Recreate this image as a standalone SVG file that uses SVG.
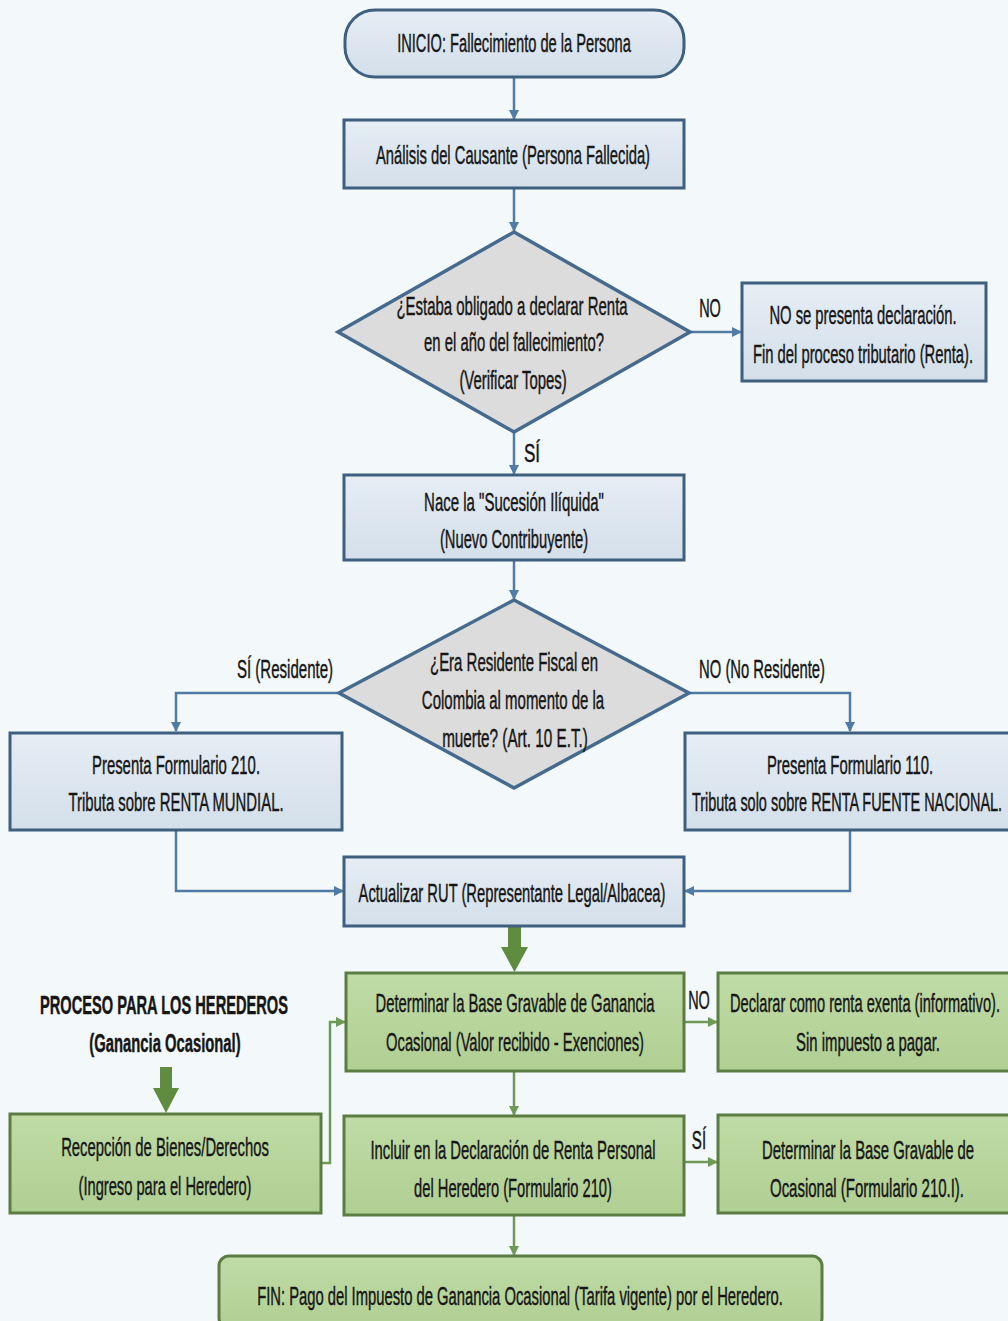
<svg xmlns="http://www.w3.org/2000/svg" width="1008" height="1321" viewBox="0 0 1008 1321">
<defs>
<linearGradient id="gb" x1="0" y1="0" x2="0" y2="1"><stop offset="0" stop-color="#e6edf5"/><stop offset="1" stop-color="#d3dfea"/></linearGradient>
<linearGradient id="gg" x1="0" y1="0" x2="0" y2="1"><stop offset="0" stop-color="#c0dba6"/><stop offset="1" stop-color="#b0cf93"/></linearGradient>
<marker id="ab" viewBox="0 0 10 10" refX="9" refY="5" markerWidth="4" markerHeight="5" orient="auto" markerUnits="strokeWidth"><path d="M0,0 L10,5 L0,10 z" fill="#4f7ba5"/></marker>
<marker id="ag" viewBox="0 0 10 10" refX="9" refY="5" markerWidth="4" markerHeight="5" orient="auto" markerUnits="strokeWidth"><path d="M0,0 L10,5 L0,10 z" fill="#6f9a55"/></marker>
<style>
.bb{fill:url(#gb);stroke:#3f5f7f;stroke-width:3}
.gb{fill:url(#gg);stroke:#5b7d44;stroke-width:3}
.dm{fill:#dcdcdc;stroke:#456a8e;stroke-width:3.5}
.t{font-family:"Liberation Sans Narrow","Liberation Sans",Arial,sans-serif;font-size:26px;fill:#161616;stroke:#161616;stroke-width:0.45;text-anchor:middle}
.b{font-weight:bold}
.cb{fill:none;stroke:#4f7ba5;stroke-width:2.5;marker-end:url(#ab)}
.cg{fill:none;stroke:#6f9a55;stroke-width:2.5;marker-end:url(#ag)}
.big{fill:#5f8c3e}
</style>
</defs>
<rect width="1008" height="1321" fill="#f3f8fa"/>
<g id="connectors">
<path class="cb" d="M514,78 V119"/>
<path class="cb" d="M514,189 V231"/>
<path class="cb" d="M690,332 H741"/>
<path class="cb" d="M514,433 V474"/>
<path class="cb" d="M514,561 V599"/>
<path class="cb" d="M338,693 H176 V731"/>
<path class="cb" d="M690,693 H850 V731"/>
<path class="cb" d="M176,831 V891 H343"/>
<path class="cb" d="M850,831 V891 H685"/>
<path class="big" d="M508,927 H521 V947 H528 L514.5,972 L501,947 H508 Z"/>
<path class="big" d="M160,1067 H172 V1088 H179 L166,1113 L153,1088 H160 Z"/>
<path class="cg" d="M322,1163 H330 V1022 H345"/>
<path class="cg" d="M684,1022 H717"/>
<path class="cg" d="M514,1072 V1115"/>
<path class="cg" d="M684,1162 H717"/>
<path class="cg" d="M514,1215 V1255"/>
</g>
<g id="n_inicio"><rect class="bb" x="345" y="10" width="339" height="67" rx="30"/><text class="t" transform="translate(514,52) scale(0.62,1)" textLength="377" lengthAdjust="spacingAndGlyphs">INICIO: Fallecimiento de la Persona</text></g>
<g id="n_analisis"><rect class="bb" x="344" y="120" width="340" height="68"/><text class="t" transform="translate(513,164) scale(0.62,1)" textLength="442" lengthAdjust="spacingAndGlyphs">Análisis del Causante (Persona Fallecida)</text></g>
<g id="n_d1"><path class="dm" d="M514,232 L690,332 L514,432 L338,332 Z"/>
<text class="t" transform="translate(512,315) scale(0.62,1)" textLength="373" lengthAdjust="spacingAndGlyphs">¿Estaba obligado a declarar Renta</text>
<text class="t" transform="translate(514,351) scale(0.62,1)" textLength="290" lengthAdjust="spacingAndGlyphs">en el año del fallecimiento?</text>
<text class="t" transform="translate(513,389) scale(0.62,1)" textLength="173" lengthAdjust="spacingAndGlyphs">(Verificar Topes)</text></g>
<text class="t" transform="translate(710,317) scale(0.62,1)" textLength="35" lengthAdjust="spacingAndGlyphs">NO</text>
<text class="t" transform="translate(532,462) scale(0.62,1)" textLength="26" lengthAdjust="spacingAndGlyphs">SÍ</text>
<g id="n_nopresenta"><rect class="bb" x="742" y="283" width="244" height="98"/>
<text class="t" transform="translate(863,324) scale(0.62,1)" textLength="302" lengthAdjust="spacingAndGlyphs">NO se presenta declaración.</text>
<text class="t" transform="translate(863,363) scale(0.62,1)" textLength="355" lengthAdjust="spacingAndGlyphs">Fin del proceso tributario (Renta).</text></g>
<g id="n_nace"><rect class="bb" x="344" y="475" width="340" height="85"/>
<text class="t" transform="translate(514,511) scale(0.62,1)" textLength="290" lengthAdjust="spacingAndGlyphs">Nace la "Sucesión Ilíquida"</text>
<text class="t" transform="translate(514,548) scale(0.62,1)" textLength="239" lengthAdjust="spacingAndGlyphs">(Nuevo Contribuyente)</text></g>
<g id="n_d2"><path class="dm" d="M514,600 L689,693 L514,788 L339,693 Z"/>
<text class="t" transform="translate(514,671) scale(0.62,1)" textLength="271" lengthAdjust="spacingAndGlyphs">¿Era Residente Fiscal en</text>
<text class="t" transform="translate(513,709) scale(0.62,1)" textLength="294" lengthAdjust="spacingAndGlyphs">Colombia al momento de la</text>
<text class="t" transform="translate(515,747) scale(0.62,1)" textLength="235" lengthAdjust="spacingAndGlyphs">muerte? (Art. 10 E.T.)</text></g>
<text class="t" transform="translate(285,678) scale(0.62,1)" textLength="155" lengthAdjust="spacingAndGlyphs">SÍ (Residente)</text>
<text class="t" transform="translate(762,678) scale(0.62,1)" textLength="203" lengthAdjust="spacingAndGlyphs">NO (No Residente)</text>
<g id="n_f210"><rect class="bb" x="10" y="733" width="332" height="97"/>
<text class="t" transform="translate(176,774) scale(0.62,1)" textLength="271" lengthAdjust="spacingAndGlyphs">Presenta Formulario 210.</text>
<text class="t" transform="translate(176,811) scale(0.62,1)" textLength="347" lengthAdjust="spacingAndGlyphs">Tributa sobre RENTA MUNDIAL.</text></g>
<g id="n_f110"><rect class="bb" x="685" y="733" width="330" height="97"/>
<text class="t" transform="translate(850,774) scale(0.62,1)" textLength="268" lengthAdjust="spacingAndGlyphs">Presenta Formulario 110.</text>
<text class="t" transform="translate(847,811) scale(0.56,1)" textLength="554" lengthAdjust="spacingAndGlyphs">Tributa solo sobre RENTA FUENTE NACIONAL.</text></g>
<g id="n_rut"><rect class="bb" x="344" y="857" width="340" height="69"/>
<text class="t" transform="translate(512,902) scale(0.62,1)" textLength="495" lengthAdjust="spacingAndGlyphs">Actualizar RUT (Representante Legal/Albacea)</text></g>
<g id="n_herederos">
<text class="t b" transform="translate(164,1014) scale(0.62,1)" textLength="400" lengthAdjust="spacingAndGlyphs">PROCESO PARA LOS HEREDEROS</text>
<text class="t b" transform="translate(165,1052) scale(0.62,1)" textLength="244" lengthAdjust="spacingAndGlyphs">(Ganancia Ocasional)</text></g>
<g id="n_base"><rect class="gb" x="346" y="973" width="338" height="98"/>
<text class="t" transform="translate(515,1012) scale(0.62,1)" textLength="450" lengthAdjust="spacingAndGlyphs">Determinar la Base Gravable de Ganancia</text>
<text class="t" transform="translate(515,1051) scale(0.62,1)" textLength="416" lengthAdjust="spacingAndGlyphs">Ocasional (Valor recibido - Exenciones)</text></g>
<text class="t" transform="translate(699,1009) scale(0.62,1)" textLength="35" lengthAdjust="spacingAndGlyphs">NO</text>
<g id="n_exenta"><rect class="gb" x="718" y="973" width="296" height="98"/>
<text class="t" transform="translate(865,1012) scale(0.56,1)" textLength="482" lengthAdjust="spacingAndGlyphs">Declarar como renta exenta (informativo).</text>
<text class="t" transform="translate(868,1051) scale(0.62,1)" textLength="232" lengthAdjust="spacingAndGlyphs">Sin impuesto a pagar.</text></g>
<g id="n_recepcion"><rect class="gb" x="10" y="1114" width="311" height="99"/>
<text class="t" transform="translate(165,1156) scale(0.62,1)" textLength="335" lengthAdjust="spacingAndGlyphs">Recepción de Bienes/Derechos</text>
<text class="t" transform="translate(165,1195) scale(0.62,1)" textLength="279" lengthAdjust="spacingAndGlyphs">(Ingreso para el Heredero)</text></g>
<g id="n_incluir"><rect class="gb" x="344" y="1116" width="340" height="99"/>
<text class="t" transform="translate(513,1159) scale(0.62,1)" textLength="460" lengthAdjust="spacingAndGlyphs">Incluir en la Declaración de Renta Personal</text>
<text class="t" transform="translate(513,1197) scale(0.62,1)" textLength="319" lengthAdjust="spacingAndGlyphs">del Heredero (Formulario 210)</text></g>
<text class="t" transform="translate(699,1149) scale(0.62,1)" textLength="23" lengthAdjust="spacingAndGlyphs">SÍ</text>
<g id="n_base210"><rect class="gb" x="718" y="1115" width="296" height="98"/>
<text class="t" transform="translate(868,1159) scale(0.62,1)" textLength="342" lengthAdjust="spacingAndGlyphs">Determinar la Base Gravable de</text>
<text class="t" transform="translate(867,1197) scale(0.62,1)" textLength="313" lengthAdjust="spacingAndGlyphs">Ocasional (Formulario 210.I).</text></g>
<g id="n_fin"><rect class="gb" x="219" y="1256" width="603" height="72" rx="10"/>
<text class="t" transform="translate(520,1305) scale(0.62,1)" textLength="848" lengthAdjust="spacingAndGlyphs">FIN: Pago del Impuesto de Ganancia Ocasional (Tarifa vigente) por el Heredero.</text></g>
</svg>
